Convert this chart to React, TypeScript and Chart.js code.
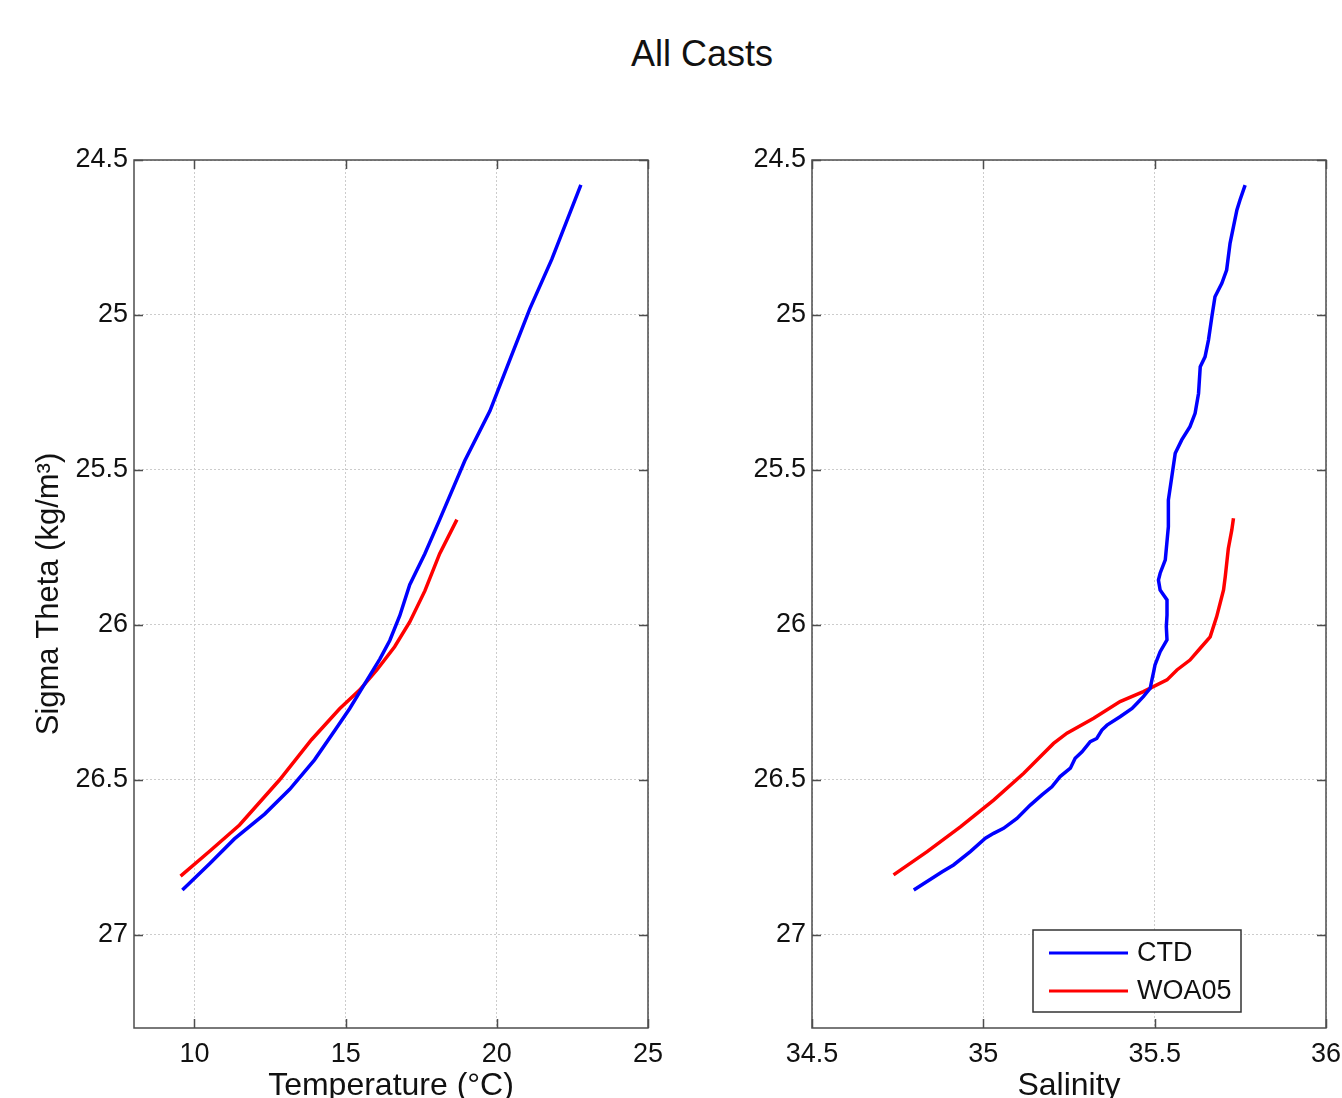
import React, { useEffect, useRef } from "react";
import { Chart, registerables } from "chart.js";

Chart.register(...registerables);

const FONT = "'Liberation Sans', Arial, Helvetica, sans-serif";
const TEXT = "#111111";

// ---- tick labels ----
const sigmaTicks = [24.5, 25, 25.5, 26, 26.5, 27];
const tempTicks = [10, 15, 20, 25];
const salTicks = [34.5, 35, 35.5, 36];

// ---- series names / colours ----
const seriesNames = ["CTD", "WOA05"];
const seriesColors = ["#0000ff", "#ff0000"];

// ---- Temperature panel: CTD ----
const ctdTempSigma = [24.58, 24.82, 24.98, 25.145, 25.31, 25.47, 25.66, 25.77, 25.87, 25.97, 26.05, 26.11, 26.19, 26.27, 26.34, 26.435, 26.53, 26.61, 26.69, 26.77, 26.855];
const ctdTemp = [22.78, 21.82, 21.09, 20.43, 19.77, 18.94, 18.11, 17.62, 17.12, 16.79, 16.46, 16.13, 15.63, 15.13, 14.64, 13.97, 13.15, 12.32, 11.32, 10.5, 9.6];

// ---- Temperature panel: WOA05 ----
const woaTempSigma = [25.66, 25.77, 25.89, 25.99, 26.07, 26.145, 26.21, 26.27, 26.37, 26.5, 26.645, 26.73, 26.81];
const woaTemp = [18.68, 18.11, 17.62, 17.12, 16.62, 16.03, 15.46, 14.8, 13.87, 12.81, 11.49, 10.5, 9.54];

// ---- Salinity panel: CTD ----
const ctdSalSigma = [24.581, 24.629, 24.661, 24.715, 24.769, 24.855, 24.898, 24.941, 25.005, 25.081, 25.135, 25.167, 25.253, 25.317, 25.36, 25.403, 25.446, 25.522, 25.597, 25.683, 25.79, 25.833, 25.855, 25.887, 25.903, 25.919, 25.968, 26.005, 26.048, 26.086, 26.129, 26.151, 26.177, 26.204, 26.231, 26.253, 26.269, 26.296, 26.323, 26.339, 26.366, 26.376, 26.409, 26.43, 26.462, 26.489, 26.522, 26.548, 26.581, 26.624, 26.656, 26.672, 26.688, 26.731, 26.774, 26.796, 26.855];
const ctdSal = [35.764, 35.749, 35.74, 35.73, 35.72, 35.71, 35.696, 35.676, 35.667, 35.657, 35.647, 35.633, 35.628, 35.618, 35.603, 35.579, 35.56, 35.55, 35.54, 35.54, 35.531, 35.516, 35.511, 35.516, 35.526, 35.536, 35.536, 35.534, 35.536, 35.516, 35.501, 35.497, 35.492, 35.487, 35.467, 35.448, 35.434, 35.399, 35.361, 35.346, 35.331, 35.312, 35.288, 35.268, 35.254, 35.224, 35.2, 35.171, 35.137, 35.098, 35.059, 35.03, 35.006, 34.962, 34.913, 34.88, 34.797];

// ---- Salinity panel: WOA05 ----
const woaSalSigma = [25.656, 25.694, 25.753, 25.844, 25.887, 25.973, 26.038, 26.075, 26.113, 26.145, 26.177, 26.215, 26.247, 26.301, 26.349, 26.382, 26.425, 26.478, 26.565, 26.651, 26.731, 26.806];
const woaSal = [35.73, 35.725, 35.715, 35.706, 35.701, 35.681, 35.662, 35.633, 35.603, 35.565, 35.536, 35.467, 35.399, 35.322, 35.244, 35.205, 35.166, 35.118, 35.03, 34.933, 34.836, 34.738];

const toPoints = (xs: number[], ys: number[]) => xs.map((v, i) => ({ x: v, y: ys[i] }));

const framePlugin = {
  id: "matlabFrame",
  afterDatasetsDraw(chart: any, _args: any, opts: any) {
    const { ctx, chartArea: a, scales } = chart;
    const L = 9;
    ctx.save();
    ctx.strokeStyle = "#4d4d4d";
    ctx.lineWidth = 1.5;
    ctx.beginPath();
    scales.x.ticks.forEach((t: any) => {
      const px = Math.round(scales.x.getPixelForValue(t.value)) + 0.5;
      ctx.moveTo(px, a.bottom);
      ctx.lineTo(px, a.bottom - L);
      ctx.moveTo(px, a.top);
      ctx.lineTo(px, a.top + L);
    });
    scales.y.ticks.forEach((t: any) => {
      const py = Math.round(scales.y.getPixelForValue(t.value)) + 0.5;
      ctx.moveTo(a.left, py);
      ctx.lineTo(a.left + L, py);
      ctx.moveTo(a.right, py);
      ctx.lineTo(a.right - L, py);
    });
    ctx.stroke();
    ctx.strokeRect(a.left, a.top, a.right - a.left, a.bottom - a.top);

    if (opts && opts.legend) {
      const bw = 208;
      const bh = 82;
      const bx = a.right - 85 - bw;
      const by = a.bottom - 16 - bh;
      ctx.fillStyle = "#ffffff";
      ctx.fillRect(bx, by, bw, bh);
      ctx.strokeStyle = "#333333";
      ctx.lineWidth = 1.5;
      ctx.strokeRect(bx, by, bw, bh);
      chart.data.datasets.forEach((ds: any, i: number) => {
        const y = by + 23 + i * 38;
        ctx.strokeStyle = ds.borderColor;
        ctx.lineWidth = 3;
        ctx.beginPath();
        ctx.moveTo(bx + 16, y);
        ctx.lineTo(bx + 95, y);
        ctx.stroke();
        ctx.fillStyle = TEXT;
        ctx.font = `27px ${FONT}`;
        ctx.textAlign = "left";
        ctx.textBaseline = "middle";
        ctx.fillText(ds.label, bx + 104, y + 1);
      });
    }
    ctx.restore();
  },
};

function makeConfig(
  datasets: any[],
  xTicks: number[],
  xMin: number,
  xMax: number,
  xTitle: string,
  yTitle: string | null,
  yWidth: number,
  padRight: number,
  legend: boolean
): any {
  return {
    type: "scatter",
    data: {
      datasets: datasets.map((d, i) => ({
        label: seriesNames[i],
        data: d,
        showLine: true,
        borderColor: seriesColors[i],
        backgroundColor: seriesColors[i],
        borderWidth: 3.5,
        pointRadius: 0,
        tension: 0,
        fill: false,
      })),
    },
    options: {
      animation: false,
      responsive: false,
      devicePixelRatio: 1,
      layout: { padding: { left: 0, top: 160, right: padRight, bottom: 0 } },
      plugins: {
        legend: { display: false },
        tooltip: { enabled: false },
        title: { display: false },
        matlabFrame: { legend },
      },
      scales: {
        x: {
          type: "linear",
          position: "bottom",
          min: xMin,
          max: xMax,
          afterBuildTicks: (s: any) => {
            s.ticks = xTicks.map((v) => ({ value: v }));
          },
          afterFit: (s: any) => {
            s.height = 112;
          },
          grid: { color: "#cccccc", lineWidth: 1, drawTicks: false },
          border: { display: false, dash: [2, 2] },
          ticks: {
            font: { size: 27, family: FONT },
            color: TEXT,
            padding: 10,
            autoSkip: false,
            maxRotation: 0,
            callback: (v: any) => String(v),
          },
          title: {
            display: true,
            text: xTitle,
            font: { size: 32, family: FONT },
            color: TEXT,
            padding: { top: 0, bottom: 35 },
          },
        },
        y: {
          type: "linear",
          position: "left",
          reverse: true,
          min: 24.5,
          max: 27.3,
          afterBuildTicks: (s: any) => {
            s.ticks = sigmaTicks.map((v) => ({ value: v }));
          },
          afterFit: (s: any) => {
            s.width = yWidth;
          },
          grid: { color: "#cccccc", lineWidth: 1, drawTicks: false },
          border: { display: false, dash: [2, 2] },
          ticks: {
            font: { size: 27, family: FONT },
            color: TEXT,
            padding: 6,
            autoSkip: false,
            callback: (v: any) => String(v),
          },
          title: {
            display: !!yTitle,
            text: yTitle || "",
            font: { size: 31, family: FONT },
            color: TEXT,
            padding: { top: 31, bottom: 0 },
          },
        },
      },
    },
    plugins: [framePlugin],
  };
}

export default function App() {
  const leftRef = useRef<HTMLCanvasElement | null>(null);
  const rightRef = useRef<HTMLCanvasElement | null>(null);

  useEffect(() => {
    const left = new Chart(
      leftRef.current as HTMLCanvasElement,
      makeConfig(
        [toPoints(ctdTemp, ctdTempSigma), toPoints(woaTemp, woaTempSigma)],
        tempTicks,
        8,
        25,
        "Temperature (°C)",
        "Sigma Theta (kg/m³)",
        134,
        42,
        false
      )
    );
    const right = new Chart(
      rightRef.current as HTMLCanvasElement,
      makeConfig(
        [toPoints(ctdSal, ctdSalSigma), toPoints(woaSal, woaSalSigma)],
        salTicks,
        34.5,
        36,
        "Salinity",
        null,
        140,
        46,
        true
      )
    );
    return () => {
      left.destroy();
      right.destroy();
    };
  }, []);

  return (
    <div
      style={{
        position: "absolute",
        left: 0,
        top: 0,
        width: 1342,
        height: 1098,
        overflow: "hidden",
        background: "#ffffff",
      }}
    >
      <div
        style={{
          position: "absolute",
          left: 502,
          top: 36,
          width: 400,
          textAlign: "center",
          font: `36px ${FONT}`,
          lineHeight: "36px",
          color: TEXT,
          whiteSpace: "nowrap",
        }}
      >
        All Casts
      </div>
      <canvas
        ref={leftRef}
        width={690}
        height={1140}
        style={{ position: "absolute", left: 0, top: 0, width: 690, height: 1140, display: "block" }}
      />
      <canvas
        ref={rightRef}
        width={700}
        height={1140}
        style={{ position: "absolute", left: 672, top: 0, width: 700, height: 1140, display: "block" }}
      />
    </div>
  );
}
